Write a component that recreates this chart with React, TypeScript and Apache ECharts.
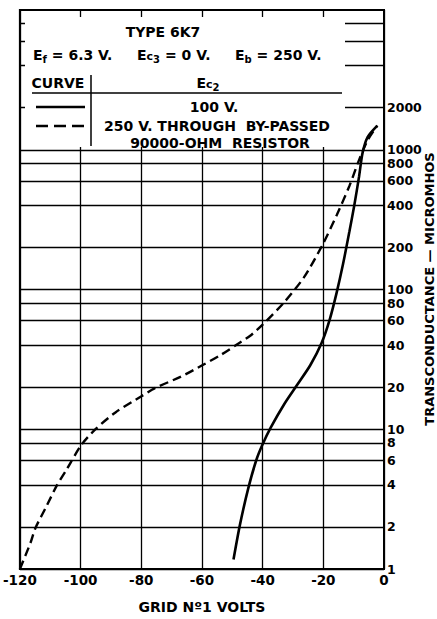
import React, { useEffect, useRef } from "react";
import * as echarts from "echarts";

// Grid No.1 volts (x) and transconductance in micromhos (y, log)
const solidVolts = [-49.6, -47.5, -44.8, -42.1, -40.0, -37.3, -32.9, -28.6, -24.3, -20.5, -17.9, -15.6, -13.5, -11.4, -9.8, -8.2, -7.1, -5.4, -2.2];
const solidGm = [1.17, 2.06, 3.73, 6.0, 7.8, 10.3, 15.1, 20.8, 28.7, 41.8, 60.9, 95, 152, 260, 399, 647, 942, 1233, 1489];

const dashedVolts = [-120, -116.5, -114.9, -111.1, -107.9, -104.6, -99.8, -94.9, -88.5, -79.8, -75.5, -66.9, -59.9, -54.0, -49.1, -44.2, -40.0, -32.9, -26.4, -20.5, -15.6, -11.4, -8.2, -5.4, -2.2];
const dashedGm = [1.0, 1.54, 1.96, 2.85, 3.93, 5.15, 7.7, 10.1, 13.2, 17.3, 19.7, 23.8, 28.7, 33.8, 39.6, 46.5, 56, 81, 122, 204, 340, 551, 847, 1170, 1489];

const yGridValues = [1, 2, 4, 6, 8, 10, 20, 40, 60, 80, 100, 200, 400, 600, 800, 1000, 2000, 4000, 6000, 8000];
const yLabelValues = [1, 2, 4, 6, 8, 10, 20, 40, 60, 80, 100, 200, 400, 600, 800, 1000, 2000];

const FONT = "'DejaVu Sans', sans-serif";

export default function App() {
  const ref = useRef<HTMLDivElement>(null);
  useEffect(() => {
    if (!ref.current) return;
    const chart = echarts.init(ref.current, null, { renderer: "svg" });
    const txt = (text: string, x: number, y: number, extra: any = {}, rotation = 0) => ({
      type: "text",
      x,
      y,
      z: 110,
      rotation,
      style: {
        text,
        fill: "#000",
        fontFamily: FONT,
        fontWeight: "bold",
        fontSize: 14,
        align: "center",
        verticalAlign: "middle",
        ...extra,
      },
    });
    const sub = { fontSize: 10, fontFamily: FONT, fontWeight: "bold", padding: [8, 0, 0, 0] };
    const smallc = { fontSize: 11, fontFamily: FONT, fontWeight: "bold", padding: [3, 0, 0, 0] };
    const rich = { s: sub, c: smallc };
    chart.setOption({
      animation: false,
      grid: { left: 12.5, right: 53, top: 10, bottom: 37, show: true, borderColor: "#000", borderWidth: 2 },
      xAxis: {
        type: "value",
        min: -120,
        max: 0,
        interval: 20,
        name: "GRID Nº1 VOLTS",
        nameLocation: "middle",
        nameGap: 31,
        nameTextStyle: { color: "#000", fontFamily: FONT, fontWeight: "bold", fontSize: 14 },
        axisLine: { show: true, lineStyle: { color: "#000", width: 2 } },
        axisTick: { show: false },
        axisLabel: { color: "#000", fontFamily: FONT, fontWeight: "bold", fontSize: 13.5, margin: 4 },
        splitLine: { show: true, lineStyle: { color: "#000", width: 1.3 } },
      },
      yAxis: {
        type: "log",
        logBase: 10,
        min: 1,
        max: 10000,
        position: "right",
        axisLine: { show: true, lineStyle: { color: "#000", width: 2 } },
        axisTick: { show: false },
        axisLabel: { show: false },
        splitLine: { show: false },
      },
      series: [
        {
          type: "line",
          data: solidVolts.map((v, i) => [v, solidGm[i]]),
          smooth: 0.25,
          symbol: "none",
          lineStyle: { color: "#000", width: 2.6 },
          z: 5,
          markLine: {
            silent: true,
            symbol: ["none", "none"],
            lineStyle: { color: "#000", width: 1.3, type: "solid" },
            label: {
              show: true,
              position: "end",
              distance: 3,
              color: "#000",
              fontFamily: FONT,
              fontWeight: "bold",
              fontSize: 12.5,
            },
            data: yGridValues.map((v) => ({
              yAxis: v,
              label: { formatter: yLabelValues.includes(v) ? String(v) : "" },
            })),
          },
        },
        {
          type: "line",
          data: dashedVolts.map((v, i) => [v, dashedGm[i]]),
          smooth: 0.25,
          symbol: "none",
          lineStyle: { color: "#000", width: 2.4, type: [9, 5] },
          z: 5,
        },
      ],
      graphic: [
        { type: "rect", z: 100, shape: { x: 25, y: 17, width: 320, height: 130 }, style: { fill: "#fff" } },
        txt("TYPE 6K7", 163, 32),
        txt("E{s|f} = 6.3 V.", 33, 55, { align: "left", rich }),
        txt("E{c|c}{s|3} = 0 V.", 137, 55, { align: "left", rich }),
        txt("E{s|b} = 250 V.", 235, 55, { align: "left", rich }),
        txt("CURVE", 58, 83),
        txt("E{c|c}{s|2}", 208, 83, { rich }),
        { type: "line", z: 110, shape: { x1: 32, y1: 93, x2: 342, y2: 93 }, style: { stroke: "#000", lineWidth: 1.5 } },
        { type: "line", z: 110, shape: { x1: 91, y1: 75, x2: 91, y2: 146 }, style: { stroke: "#000", lineWidth: 1.5 } },
        { type: "line", z: 110, shape: { x1: 36, y1: 107, x2: 85, y2: 107 }, style: { stroke: "#000", lineWidth: 2.6 } },
        { type: "line", z: 110, shape: { x1: 36, y1: 126, x2: 85, y2: 126 }, style: { stroke: "#000", lineWidth: 2.4, lineDash: [12, 6] } },
        txt("100 V.", 214, 107),
        txt("250 V. THROUGH  BY-PASSED", 217, 126),
        txt("90000-OHM  RESISTOR", 220, 143),
        txt("TRANSCONDUCTANCE — MICROMHOS", 429, 289, { fontSize: 13 }, Math.PI / 2),
      ],
    });
    return () => chart.dispose();
  }, []);
  return <div ref={ref} style={{ position: "absolute", left: 0, top: 0, width: 437, height: 619 }} />;
}
